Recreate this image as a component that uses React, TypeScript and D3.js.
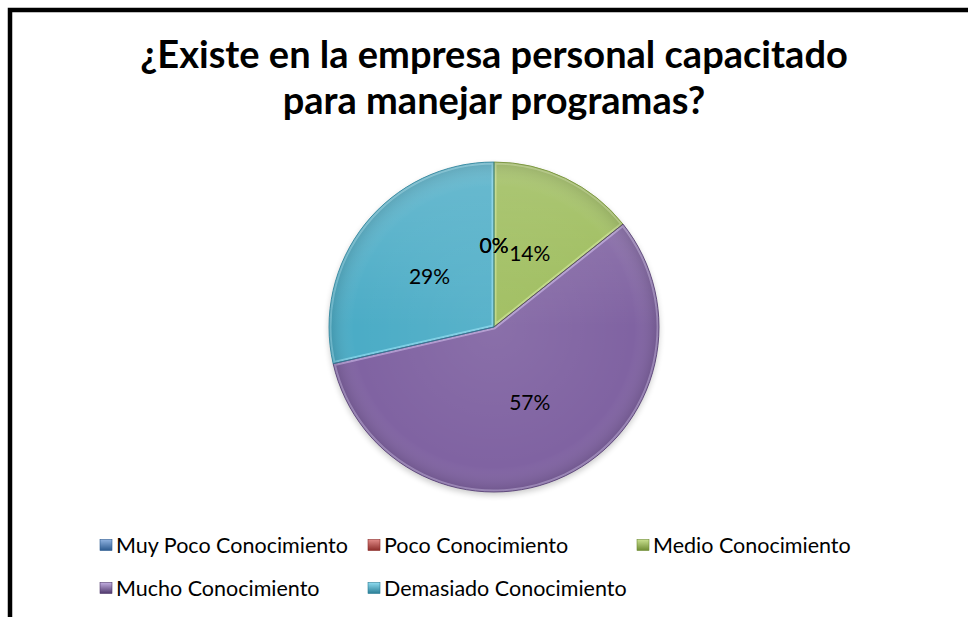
import React from "react";
import * as d3 from "d3";

const title = ["¿Existe en la empresa personal capacitado", "para manejar programas?"];
const categories = [
  "Muy Poco Conocimiento",
  "Poco Conocimiento",
  "Medio Conocimiento",
  "Mucho Conocimiento",
  "Demasiado Conocimiento",
];
const values = [0, 0, 1, 4, 2];
const colors = ["#4F81BD", "#C0504D", "#9BBB59", "#8064A2", "#4BACC6"];
const lightColors = ["#8fb2e0", "#e08a87", "#c9e08f", "#c2aee0", "#8fdcf0"];
const darkColors = ["#2c5a8f", "#8c2d2a", "#6f8c33", "#4f386c", "#2a7e96"];

const W = 968;
const H = 617;
const cx = 494;
const cy = 327;
const R = 165;

export default function App() {
  const total = d3.sum(values);
  const pie = d3.pie<number>().sort(null).value((d) => d);
  const arcs = pie(values);
  const arc = d3.arc<d3.PieArcDatum<number>>().innerRadius(0).outerRadius(R);
  const pct = d3.format(".0%");

  const legendX = d3.scaleOrdinal<number, number>().domain([0, 1, 2]).range([100, 368, 637]);
  const legendY = d3.scaleOrdinal<number, number>().domain([0, 1]).range([545, 588]);

  return (
    <svg
      width={W}
      height={H}
      style={{ position: "absolute", left: 0, top: 0, background: "#fff" }}
      fontFamily="Lato, 'Open Sans', sans-serif"
    >
      <defs>
        {colors.map((c, i) => (
          <linearGradient key={i} id={`lg${i}`} x1="0" y1="0" x2="0" y2="1">
            <stop offset="0%" stopColor={lightColors[i]} />
            <stop offset="100%" stopColor={darkColors[i]} />
          </linearGradient>
        ))}
        <radialGradient id="pieShade" cx={cx} cy={cy} r={R} gradientUnits="userSpaceOnUse">
          <stop offset="0%" stopColor="#fff" stopOpacity={0.08} />
          <stop offset="85%" stopColor="#fff" stopOpacity={0} />
          <stop offset="100%" stopColor="#000" stopOpacity={0.14} />
        </radialGradient>
        <linearGradient id="topLight" x1="0" y1="0" x2="0" y2="1">
          <stop offset="0%" stopColor="#fff" stopOpacity={0.18} />
          <stop offset="50%" stopColor="#fff" stopOpacity={0} />
        </linearGradient>
        {arcs.map((a, i) => (
          <clipPath key={i} id={`clip${i}`}>
            <path d={arc(a) || ""} transform={`translate(${cx},${cy})`} />
          </clipPath>
        ))}
        <filter id="shadow" x="-20%" y="-20%" width="140%" height="140%">
          <feGaussianBlur in="SourceAlpha" stdDeviation="3" />
          <feOffset dx="0" dy="3" />
          <feComponentTransfer>
            <feFuncA type="linear" slope="0.22" />
          </feComponentTransfer>
          <feMerge>
            <feMergeNode />
            <feMergeNode in="SourceGraphic" />
          </feMerge>
        </filter>
      </defs>

      <path d={`M10,${H} V10 H${W}`} fill="none" stroke="#000" strokeWidth={4.5} />

      {title.map((t, i) => (
        <text
          key={i}
          x={494}
          y={68 + i * 46}
          textAnchor="middle"
          fontSize={38}
          fontWeight="bold"
          fill="#000"
        >
          {t}
        </text>
      ))}

      <g transform={`translate(${cx},${cy})`} filter="url(#shadow)">
        {arcs.map((a, i) =>
          a.value > 0 ? <path key={i} d={arc(a) || ""} fill={colors[i]} /> : null
        )}
      </g>
      {arcs.map((a, i) =>
        a.value > 0 ? (
          <g key={i} clipPath={`url(#clip${i})`}>
            <path
              d={arc(a) || ""}
              transform={`translate(${cx},${cy})`}
              fill="none"
              stroke={lightColors[i]}
              strokeWidth={5}
              strokeOpacity={0.7}
            />
          </g>
        ) : null
      )}
      <circle cx={cx} cy={cy} r={R} fill="url(#pieShade)" />
      <circle cx={cx} cy={cy} r={R} fill="url(#topLight)" />
      <g transform={`translate(${cx},${cy})`}>
        {arcs.map((a, i) =>
          a.value > 0 ? (
            <path
              key={i}
              d={arc(a) || ""}
              fill="none"
              stroke={darkColors[i]}
              strokeWidth={1}
              strokeOpacity={0.8}
            />
          ) : null
        )}
        {arcs.map((a, i) => {
          const [lx, ly] = arc.centroid(a);
          return (
            <text
              key={i}
              x={lx}
              y={ly}
              textAnchor="middle"
              dominantBaseline="central"
              fontSize={21}
              fill="#000"
            >
              {pct(a.value / total)}
            </text>
          );
        })}
      </g>

      {categories.map((c, i) => {
        const col = i % 3;
        const row = Math.floor(i / 3);
        const x = legendX(col);
        const y = legendY(row);
        return (
          <g key={i}>
            <rect x={x} y={y - 5.5} width={12} height={11} fill={`url(#lg${i})`} stroke={darkColors[i]} strokeWidth={0.6} />
            <text x={x + 16} y={y} dominantBaseline="central" fontSize={21.5} fill="#000">
              {c}
            </text>
          </g>
        );
      })}
    </svg>
  );
}
